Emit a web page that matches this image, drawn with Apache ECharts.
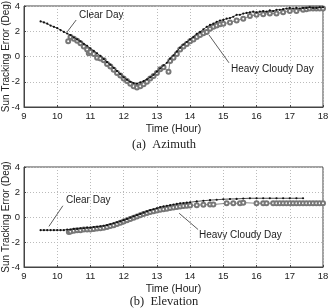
<!DOCTYPE html>
<html>
<head>
<meta charset="utf-8">
<script src="https://cdn.jsdelivr.net/npm/echarts@6/dist/echarts.min.js"></script>
<style>
  html, body { margin: 0; padding: 0; background: #fff; }
  #main { width: 328px; height: 308px; }
</style>
</head>
<body>
<div id="main"></div>
<script>
// tick labels
const xTicks = [9, 18, 1];
const yTicks = [-4, 4, 2];

// (a) Azimuth
const azClear = [
  [9.5, 2.78], [9.6, 2.7], [9.7, 2.6], [9.8, 2.45], [9.9, 2.35], [10.0, 2.25], [10.1, 2.1], [10.2, 1.95],
  [10.3, 1.82], [10.4, 1.7], [10.5, 1.5], [10.6, 1.35], [10.7, 1.2], [10.8, 1.0], [10.9, 0.85], [11.0, 0.65],
  [11.1, 0.45], [11.2, 0.25], [11.3, 0.05], [11.4, -0.2], [11.5, -0.45], [11.6, -0.65], [11.7, -0.9], [11.8, -1.15],
  [11.9, -1.4], [12.0, -1.65], [12.1, -1.85], [12.2, -2.0], [12.3, -2.1], [12.4, -2.15], [12.5, -2.05], [12.6, -1.95],
  [12.7, -1.8], [12.8, -1.65], [12.9, -1.45], [13.0, -1.2], [13.1, -0.95], [13.2, -0.7], [13.3, -0.5], [13.4, -0.15],
  [13.5, 0.1], [13.6, 0.4], [13.7, 0.7], [13.8, 0.95], [13.9, 1.15], [14.0, 1.35], [14.1, 1.55], [14.2, 1.8],
  [14.3, 1.95], [14.4, 2.15], [14.5, 2.35], [14.6, 2.5], [14.7, 2.6], [14.8, 2.75], [14.9, 2.85], [15.0, 2.9],
  [15.1, 3.0], [15.2, 3.05], [15.3, 3.15], [15.4, 3.3], [15.5, 3.3], [15.6, 3.4], [15.7, 3.45], [15.8, 3.5],
  [15.9, 3.55], [16.0, 3.5], [16.1, 3.55], [16.2, 3.6], [16.3, 3.55], [16.4, 3.65], [16.5, 3.6], [16.6, 3.7],
  [16.7, 3.7], [16.8, 3.75], [16.9, 3.8], [17.0, 3.85], [17.1, 3.8], [17.2, 3.85], [17.3, 3.8], [17.4, 3.85],
  [17.5, 3.85], [17.6, 3.9], [17.7, 3.85], [17.8, 3.85], [17.9, 3.9], [18.0, 3.9]
];
const azCloudy = [
  [10.33, 1.2], [10.4, 1.55], [10.5, 1.4], [10.6, 1.25], [10.7, 1.05], [10.8, 0.8], [10.9, 0.55], [10.95, 0.25],
  [11.0, 0.35], [11.1, 0.2], [11.2, -0.1], [11.3, -0.15], [11.4, -0.3], [11.5, -0.6], [11.6, -0.8], [11.7, -1.05],
  [11.8, -1.3], [11.9, -1.5], [12.0, -1.75], [12.1, -1.95], [12.2, -2.15], [12.3, -2.35], [12.4, -2.45], [12.5, -2.35],
  [12.6, -2.2], [12.7, -2.0], [12.8, -1.75], [12.9, -1.55], [13.0, -1.3], [13.1, -1.0], [13.2, -0.85], [13.35, -1.2],
  [13.4, -0.35], [13.5, -0.1], [13.6, 0.2], [13.7, 0.55], [13.8, 0.8], [13.9, 1.0], [14.0, 1.2], [14.1, 1.35],
  [14.2, 1.55], [14.3, 1.7], [14.4, 1.85], [14.5, 1.95], [14.6, 2.2], [14.7, 2.35], [14.8, 2.45], [14.9, 2.55],
  [15.0, 2.6], [15.2, 2.7], [15.4, 2.85], [15.6, 3.0], [15.8, 3.2], [16.0, 3.3], [16.2, 3.35], [16.4, 3.4],
  [16.6, 3.4], [16.8, 3.5], [17.0, 3.6], [17.2, 3.6], [17.4, 3.7], [17.5, 3.75], [17.6, 3.8], [17.7, 3.8],
  [17.8, 3.8], [17.9, 3.8], [18.0, 3.8]
];

// (b) Elevation
const elClear = [
  [9.5, -1.05], [9.6, -1.05], [9.7, -1.05], [9.8, -1.05], [9.9, -1.05], [10.0, -1.05], [10.1, -1.05], [10.2, -1.05],
  [10.3, -1.0], [10.4, -1.0], [10.5, -0.95], [10.6, -0.95], [10.7, -0.9], [10.8, -0.9], [10.9, -0.85], [11.0, -0.85],
  [11.1, -0.8], [11.2, -0.78], [11.3, -0.75], [11.4, -0.7], [11.5, -0.65], [11.6, -0.58], [11.7, -0.5], [11.8, -0.42],
  [11.9, -0.35], [12.0, -0.25], [12.1, -0.15], [12.2, -0.05], [12.3, 0.05], [12.4, 0.15], [12.5, 0.25], [12.6, 0.35],
  [12.7, 0.45], [12.8, 0.55], [12.9, 0.62], [13.0, 0.7], [13.1, 0.8], [13.2, 0.85], [13.3, 0.9], [13.4, 0.95],
  [13.5, 1.0], [13.6, 1.05], [13.7, 1.1], [13.8, 1.12], [13.9, 1.15], [14.0, 1.18], [14.2, 1.25], [14.4, 1.3],
  [14.6, 1.35], [14.8, 1.38], [15.0, 1.42], [15.2, 1.44], [15.4, 1.45], [15.6, 1.48], [15.8, 1.5], [16.0, 1.5],
  [16.2, 1.5], [16.4, 1.5], [16.6, 1.5], [16.8, 1.5], [17.0, 1.5], [17.2, 1.5], [17.4, 1.5]
];
const elCloudy = [
  [10.35, -1.2], [10.4, -1.15], [10.5, -1.1], [10.6, -1.05], [10.7, -1.05], [10.8, -1.0], [10.9, -1.0], [11.0, -1.0],
  [11.1, -0.95], [11.2, -0.92], [11.3, -0.9], [11.4, -0.85], [11.5, -0.8], [11.6, -0.72], [11.7, -0.65], [11.8, -0.55],
  [11.9, -0.45], [12.0, -0.35], [12.1, -0.25], [12.2, -0.15], [12.3, -0.05], [12.4, 0.05], [12.5, 0.15], [12.6, 0.25],
  [12.7, 0.32], [12.8, 0.4], [12.9, 0.47], [13.0, 0.52], [13.1, 0.58], [13.2, 0.62], [13.3, 0.67], [13.4, 0.72],
  [13.5, 0.77], [13.6, 0.8], [13.7, 0.85], [13.8, 0.88], [13.9, 0.9], [14.0, 0.93], [14.2, 0.95], [14.4, 0.98],
  [14.6, 1.0], [14.7, 1.0], [15.1, 1.1], [15.3, 1.1], [15.5, 1.1], [15.6, 1.15], [16.0, 1.1], [16.2, 1.1],
  [16.3, 1.1], [16.5, 1.1], [16.6, 1.1], [16.7, 1.1], [16.8, 1.1], [16.9, 1.1], [17.0, 1.1], [17.1, 1.1],
  [17.2, 1.1], [17.3, 1.1], [17.4, 1.1], [17.5, 1.1], [17.6, 1.1], [17.7, 1.1], [17.8, 1.1], [17.9, 1.1], [18.0, 1.1]
];

// arrows in data coords
const azArrows = [[[10.57, 2.89], [10.3, 1.95]], [[15.17, -0.5], [14.57, 1.7]]];
const elArrows = [[[10.17, 0.9], [9.75, -0.75]], [[14.24, -1.0], [13.67, 0.3]]];

const font = 'Liberation Sans, Arial, sans-serif';
const chart = echarts.init(document.getElementById('main'));

function xAxis(idx) {
  return {
    type: 'value', gridIndex: idx, min: xTicks[0], max: xTicks[1], interval: xTicks[2],
    name: 'Time (Hour)', nameLocation: 'middle', nameGap: 17, nameMoveOverlap: false,
    nameTextStyle: { fontFamily: font, fontSize: 10.5, color: '#222' },
    axisLine: { onZero: false, lineStyle: { color: '#444', width: 1 } },
    axisTick: { inside: true, length: 2, lineStyle: { color: '#444' } },
    axisLabel: { fontFamily: font, fontSize: 9.5, color: '#222', margin: 4 },
    splitLine: { show: true, lineStyle: { color: '#bbb', type: [1, 2], width: 1 } }
  };
}
function yAxis(idx) {
  return {
    type: 'value', gridIndex: idx, min: yTicks[0], max: yTicks[1], interval: yTicks[2],
    name: 'Sun Tracking Error (Deg)', nameLocation: 'middle', nameGap: 13, nameMoveOverlap: false,
    nameTextStyle: { fontFamily: font, fontSize: 10, color: '#222' },
    axisLine: { onZero: false, lineStyle: { color: '#444', width: 1 } },
    axisTick: { inside: true, length: 2, lineStyle: { color: '#444' } },
    axisLabel: { fontFamily: font, fontSize: 9.5, color: '#222', margin: 4 },
    splitLine: { show: true, lineStyle: { color: '#bbb', type: [1, 2], width: 1 } }
  };
}
function arrowLine(list) {
  return {
    silent: true, animation: false, symbol: ['none', 'arrow'], symbolSize: [0, 6],
    lineStyle: { color: '#333', width: 0.8, type: 'solid' }, label: { show: false },
    data: list.map(a => [{ coord: a[0] }, { coord: a[1] }])
  };
}
function clear(idx, data, arrows) {
  return {
    name: 'Clear Day', type: 'line', xAxisIndex: idx, yAxisIndex: idx, data: data,
    symbol: 'circle', symbolSize: 2.2, showSymbol: true, z: 3,
    itemStyle: { color: '#111' }, lineStyle: { color: '#222', width: 0.8 },
    markLine: arrowLine(arrows), animation: false
  };
}
function cloudy(idx, data) {
  return {
    name: 'Heavy Cloudy Day', type: 'line', xAxisIndex: idx, yAxisIndex: idx, data: data,
    symbol: 'emptyCircle', symbolSize: 4, showSymbol: true, z: 2,
    itemStyle: { color: '#777', borderWidth: 0.7 },
    lineStyle: { color: '#555', width: 0.7 },
    animation: false
  };
}
function txt(x, y, s) {
  return { type: 'text', left: x, top: y, style: { text: s, fontFamily: font, fontSize: 10, fill: '#222' } };
}
function caption(y, s) {
  return {
    type: 'text', x: 164, y: y,
    style: { text: s, fontFamily: 'Liberation Serif, Times New Roman, serif', fontSize: 12.5, fill: '#222',
             align: 'center', verticalAlign: 'middle' }
  };
}

chart.setOption({
  animation: false,
  grid: [
    { left: 24, top: 6, width: 299, height: 101, show: true, borderColor: '#444', borderWidth: 1,
      containLabel: false, outerBoundsMode: 'none' },
    { left: 24, top: 167, width: 299, height: 100, show: true, borderColor: '#444', borderWidth: 1,
      containLabel: false, outerBoundsMode: 'none' }
  ],
  xAxis: [xAxis(0), xAxis(1)],
  yAxis: [yAxis(0), yAxis(1)],
  series: [
    clear(0, azClear, azArrows), cloudy(0, azCloudy),
    clear(1, elClear, elArrows), cloudy(1, elCloudy)
  ],
  graphic: [
    txt(79, 10, 'Clear Day'),
    txt(231, 64, 'Heavy Cloudy Day'),
    txt(66, 195, 'Clear Day'),
    txt(199, 230, 'Heavy Cloudy Day'),
    caption(145, '(a)  Azimuth'),
    caption(302, '(b)  Elevation')
  ]
});
</script>
</body>
</html>
